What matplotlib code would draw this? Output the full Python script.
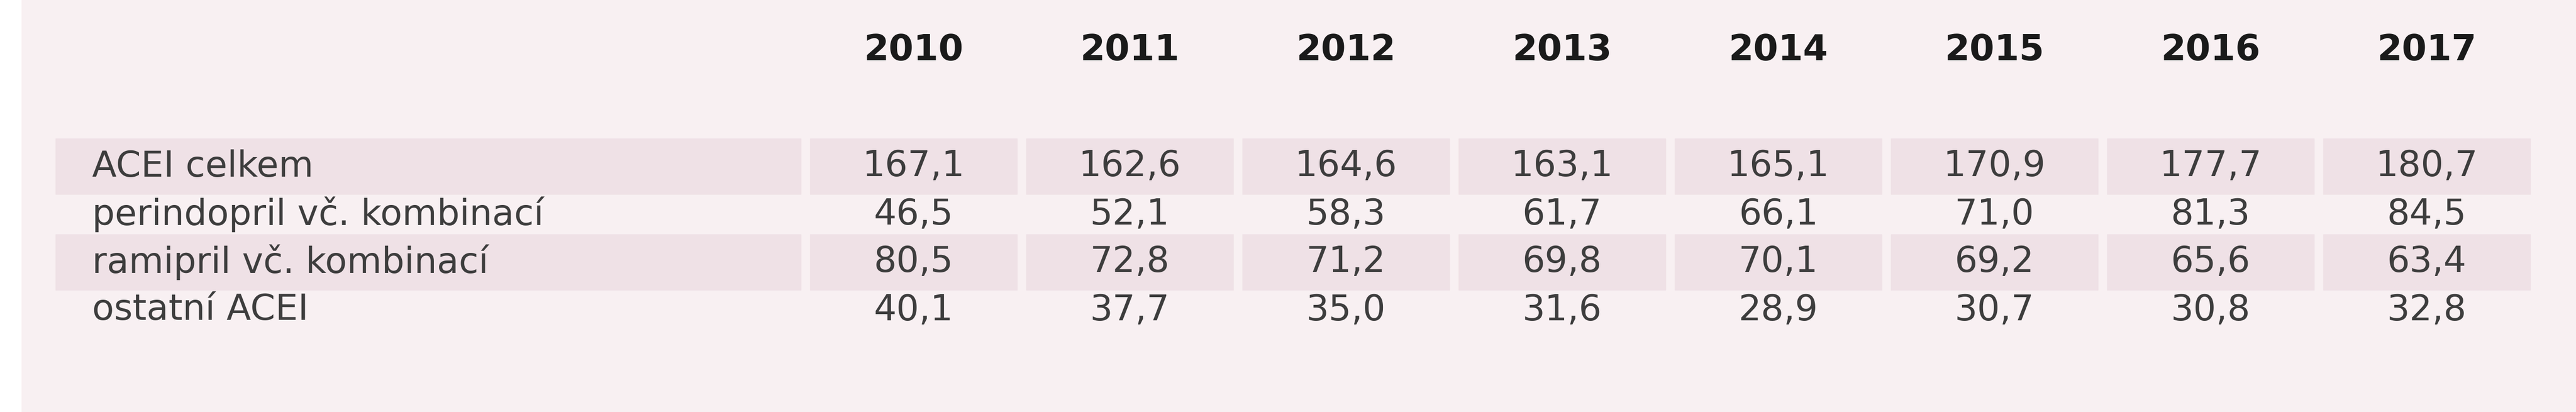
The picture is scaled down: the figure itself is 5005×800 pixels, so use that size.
import matplotlib
matplotlib.use("Agg")
import matplotlib.pyplot as plt
from matplotlib.patches import Rectangle

years = ["2010", "2011", "2012", "2013", "2014", "2015", "2016", "2017"]
row_labels = ["ACEI celkem", "perindopril vč. kombinací", "ramipril vč. kombinací", "ostatní ACEI"]
acei_celkem = [167.1, 162.6, 164.6, 163.1, 165.1, 170.9, 177.7, 180.7]
perindopril = [46.5, 52.1, 58.3, 61.7, 66.1, 71.0, 81.3, 84.5]
ramipril = [80.5, 72.8, 71.2, 69.8, 70.1, 69.2, 65.6, 63.4]
ostatni = [40.1, 37.7, 35.0, 31.6, 28.9, 30.7, 30.8, 32.8]
rows = [acei_celkem, perindopril, ramipril, ostatni]

fam = ["DejaVu Sans"]

fig = plt.figure(figsize=(50.05, 8), dpi=100)
fig.patch.set_facecolor("white")
ax = fig.add_axes([0, 0, 1, 1])
ax.set_xlim(0, 5005)
ax.set_ylim(800, 0)
ax.axis("off")

ax.add_patch(Rectangle((42, 0), 4963, 800, color="#f8f0f2", zorder=0))
band = "#efe1e6"
txt = "#3d3d3d"

label_x0, label_x1 = 108, 1556
col0, pitch, colw = 1574, 420, 402
header_y = 98
row_y = [323, 416, 509, 602]
band_h = 108
fs = 50

for j, y in enumerate(years):
    ax.text(col0 + j * pitch + colw / 2, header_y, y, ha="center", va="center",
            fontsize=fs, fontweight="bold", color="#1a1a1a", family=fam)

for i, (lab, vals) in enumerate(zip(row_labels, rows)):
    yc = row_y[i]
    if i % 2 == 0:
        ax.add_patch(Rectangle((label_x0, yc - band_h / 2), label_x1 - label_x0, band_h,
                               color=band, zorder=1))
        for j in range(len(years)):
            ax.add_patch(Rectangle((col0 + j * pitch, yc - band_h / 2), colw, band_h,
                                   color=band, zorder=1))
    ax.text(179, yc, lab, ha="left", va="center", fontsize=fs, color=txt, family=fam, zorder=2)
    for j, v in enumerate(vals):
        ax.text(col0 + j * pitch + colw / 2, yc, f"{v:.1f}".replace(".", ","),
                ha="center", va="center", fontsize=fs, color=txt, family=fam, zorder=2)

fig.savefig("out.png", dpi=100)
